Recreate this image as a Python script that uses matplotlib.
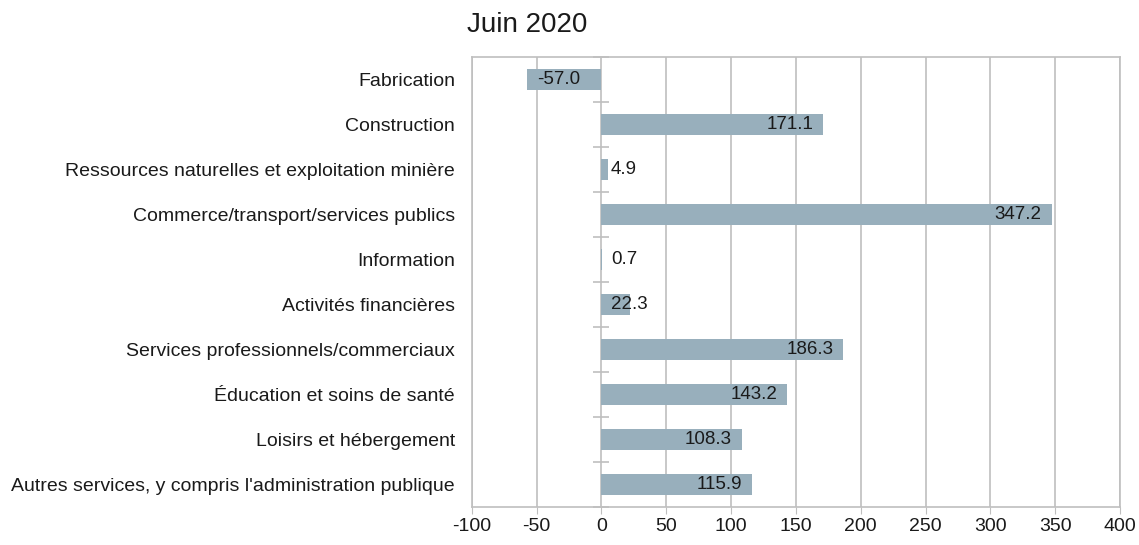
import matplotlib.pyplot as plt
import numpy as np

plt.rcParams['font.family'] = ['Liberation Sans', 'DejaVu Sans']

categories = [
    "Fabrication",
    "Construction",
    "Ressources naturelles et exploitation minière",
    "Commerce/transport/services publics",
    "Information",
    "Activités financières",
    "Services professionnels/commerciaux",
    "Éducation et soins de santé",
    "Loisirs et hébergement",
    "Autres services, y compris l'administration publique",
]
values = [-57.0, 171.1, 4.9, 347.2, 0.7, 22.3, 186.3, 143.2, 108.3, 115.9]
x_ticks = [-100, -50, 0, 50, 100, 150, 200, 250, 300, 350, 400]

bar_color = '#98AFBC'
grid_color = '#BFBFBF'
text_color = '#1a1a1a'

fig = plt.figure(figsize=(11.39, 5.45), dpi=100)
ax = fig.add_axes([471.7 / 1139, 1 - 507 / 545, (1120 - 471.7) / 1139, (507 - 56.7) / 545])

y = np.arange(len(categories))
ax.barh(y, values, height=0.47, color=bar_color, zorder=3)

ax.set_xlim(x_ticks[0], x_ticks[-1])
ax.set_ylim(len(categories) - 0.5, -0.5)
ax.set_xticks(x_ticks)
ax.set_xticklabels([str(t) for t in x_ticks], fontsize=14, color=text_color)
ax.set_yticks(y)
ax.set_yticklabels(categories, fontsize=14, color=text_color)
ax.tick_params(axis='y', length=0, pad=12)
ax.tick_params(axis='x', length=5, color=grid_color, pad=3)
ax.grid(axis='x', color=grid_color, linewidth=1.2, zorder=0)
ax.set_axisbelow(True)
for s in ax.spines.values():
    s.set_color(grid_color)
    s.set_linewidth(1.2)

# category separator ticks on the zero line
frac = (0 - x_ticks[0]) / (x_ticks[-1] - x_ticks[0])
sec = ax.secondary_yaxis(frac)
sec.set_yticks(np.arange(len(categories) + 1) - 0.5)
sec.set_yticklabels([])
sec.tick_params(direction='inout', length=12, color=grid_color, width=1.2)
sec.spines['left'].set_visible(False)

# value labels, inside end
for yi, v in zip(y, values):
    label = f"{v:.1f}"
    if v < 0:
        ax.annotate(label, (v, yi), xytext=(7, 0), textcoords='offset points',
                    ha='left', va='center', fontsize=13.5, color=text_color, zorder=4)
    elif v < 40:
        ax.annotate(label, (0, yi), xytext=(7, 0), textcoords='offset points',
                    ha='left', va='center', fontsize=13.5, color=text_color, zorder=4)
    else:
        ax.annotate(label, (v, yi), xytext=(-7, 0), textcoords='offset points',
                    ha='right', va='center', fontsize=13.5, color=text_color, zorder=4)

fig.text(467 / 1139, 1 - 32 / 545, "Juin 2020", fontsize=20, color=text_color,
         ha='left', va='baseline')

fig.savefig('out.png', dpi=100)
